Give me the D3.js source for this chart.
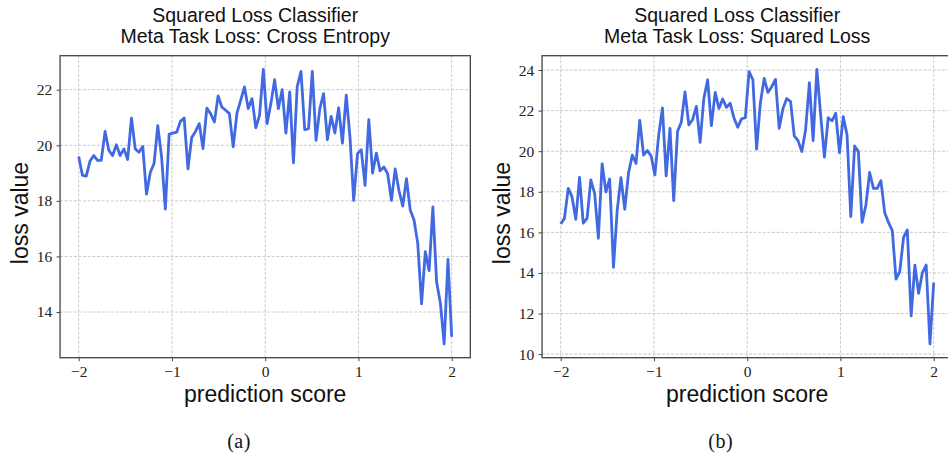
<!DOCTYPE html>
<html>
<head>
<meta charset="utf-8">
<script src="https://cdn.jsdelivr.net/npm/d3@7"></script>
<style>
  body { margin: 0; background: #fff; }
  svg { display: block; }
</style>
</head>
<body>
<svg id="chart" width="948" height="455"></svg>
<script>
// prediction scores (100 evenly spaced points from -2 to 2)
const scores = [
  -2.000, -1.960, -1.919, -1.879, -1.838, -1.798, -1.758, -1.717, -1.677, -1.636,
  -1.596, -1.556, -1.515, -1.475, -1.434, -1.394, -1.354, -1.313, -1.273, -1.232,
  -1.192, -1.152, -1.111, -1.071, -1.030, -0.990, -0.949, -0.909, -0.869, -0.828,
  -0.788, -0.747, -0.707, -0.667, -0.626, -0.586, -0.545, -0.505, -0.465, -0.424,
  -0.384, -0.343, -0.303, -0.263, -0.222, -0.182, -0.141, -0.101, -0.061, -0.020,
   0.020,  0.061,  0.101,  0.141,  0.182,  0.222,  0.263,  0.303,  0.343,  0.384,
   0.424,  0.465,  0.505,  0.545,  0.586,  0.626,  0.667,  0.707,  0.747,  0.788,
   0.828,  0.869,  0.909,  0.949,  0.990,  1.030,  1.071,  1.111,  1.152,  1.192,
   1.232,  1.273,  1.313,  1.354,  1.394,  1.434,  1.475,  1.515,  1.556,  1.596,
   1.636,  1.677,  1.717,  1.758,  1.798,  1.838,  1.879,  1.919,  1.960,  2.000
];

// (a) meta task loss: cross entropy
const lossCrossEntropy = [
  19.60, 18.92, 18.89, 19.43, 19.63, 19.46, 19.46, 20.50, 19.82, 19.63,
  20.02, 19.63, 19.87, 19.49, 20.98, 19.87, 19.75, 19.96, 18.24, 19.03,
  19.34, 20.71, 19.58, 17.70, 20.40, 20.44, 20.47, 20.86, 20.98, 19.15,
  20.28, 20.50, 20.78, 19.88, 21.34, 21.14, 20.84, 21.78, 21.38, 21.26,
  21.14, 19.94, 21.16, 21.62, 22.10, 21.32, 21.68, 20.63, 21.08, 22.73,
  20.78, 21.50, 22.36, 21.32, 22.00, 20.44, 21.92, 19.37, 22.10, 22.66,
  20.56, 20.60, 22.66, 20.18, 21.32, 21.86, 20.20, 21.04, 20.44, 21.35,
  20.08, 21.80, 20.30, 18.02, 19.70, 19.84, 18.56, 20.92, 19.00, 19.72,
  19.08, 19.22, 18.98, 18.02, 19.15, 18.38, 17.81, 18.80, 17.66, 17.31,
  16.47, 14.29, 16.17, 15.49, 17.78, 15.09, 14.31, 12.85, 15.89, 13.11
];

// (b) meta task loss: squared loss
const lossSquared = [
  16.41, 16.69, 18.17, 17.76, 16.64, 18.71, 16.45, 16.69, 18.59, 17.92,
  15.71, 19.38, 18.00, 18.63, 14.28, 17.10, 18.70, 17.14, 18.91, 19.81,
  19.40, 21.52, 19.81, 20.03, 19.76, 18.83, 20.80, 22.13, 18.78, 21.13,
  17.56, 20.98, 21.42, 22.92, 21.30, 21.55, 22.21, 20.44, 22.60, 23.52,
  21.26, 22.90, 22.11, 22.57, 22.16, 22.36, 21.62, 21.18, 21.59, 21.65,
  23.92, 23.52, 20.10, 22.37, 23.59, 22.90, 23.18, 23.54, 21.13, 22.11,
  22.60, 22.44, 20.75, 20.52, 19.98, 21.04, 23.38, 20.52, 24.03, 21.78,
  19.71, 21.65, 21.50, 21.87, 19.93, 21.70, 20.80, 16.78, 20.26, 19.98,
  16.49, 17.35, 18.95, 18.17, 18.17, 18.55, 16.97, 16.49, 16.09, 13.70,
  14.07, 15.76, 16.12, 11.88, 14.39, 13.00, 14.02, 14.39, 10.50, 13.52
];

const xTicks = [-2, -1, 0, 1, 2];
const yTicksA = [14, 16, 18, 20, 22];
const yTicksB = [10, 12, 14, 16, 18, 20, 22, 24];
const titleA = ["Squared Loss Classifier", "Meta Task Loss: Cross Entropy"];
const titleB = ["Squared Loss Classifier", "Meta Task Loss: Squared Loss"];

const sans = "'Liberation Sans', Arial, Helvetica, sans-serif";
const serif = "'Liberation Serif', 'Times New Roman', serif";
const frameColor = "#444";

const svg = d3.select("#chart");

// matplotlib-like 5% margin around the data
function padded(ext) {
  const p = (ext[1] - ext[0]) * 0.05;
  return [ext[0] - p, ext[1] + p];
}

function drawPanel(left, values, yTicks, title, caption, captionX) {
  const right = left + 410.3, top = 55.7, bottom = 357.7;
  const cx = (left + right) / 2;

  const x = d3.scaleLinear().domain(padded(d3.extent(scores))).range([left, right]);
  const y = d3.scaleLinear().domain(padded(d3.extent(values))).range([bottom, top]);

  const g = svg.append("g");

  // grid
  const grid = g.append("g")
    .attr("stroke", "#bdbdbd")
    .attr("stroke-width", 0.8)
    .attr("stroke-dasharray", "3,1.6");
  grid.selectAll("line.gx").data(xTicks).join("line").attr("class", "gx")
    .attr("x1", d => x(d)).attr("x2", d => x(d))
    .attr("y1", top).attr("y2", bottom);
  grid.selectAll("line.gy").data(yTicks).join("line").attr("class", "gy")
    .attr("x1", left).attr("x2", right)
    .attr("y1", d => y(d)).attr("y2", d => y(d));

  // the curve
  const line = d3.line()
    .x((d, i) => x(scores[i]))
    .y(d => y(d));
  g.append("path")
    .datum(values)
    .attr("fill", "none")
    .attr("stroke", "#4169e1")
    .attr("stroke-width", 2.8)
    .attr("stroke-linejoin", "round")
    .attr("d", line);

  // axes
  const fmt = d3.format("d");
  const xAxis = g.append("g")
    .attr("transform", `translate(0,${bottom})`)
    .call(d3.axisBottom(x).tickValues(xTicks).tickSize(3.5).tickPadding(4.5).tickFormat(fmt));
  const yAxis = g.append("g")
    .attr("transform", `translate(${left},0)`)
    .call(d3.axisLeft(y).tickValues(yTicks).tickSize(3.5).tickPadding(4.2).tickFormat(fmt));
  [xAxis, yAxis].forEach(a => {
    a.select(".domain").remove();
    a.selectAll(".tick line").attr("stroke", frameColor).attr("stroke-width", 1);
    a.selectAll(".tick text")
      .attr("fill", "#222")
      .style("font-family", serif)
      .style("font-size", "15.5px");
  });

  // frame
  g.append("rect")
    .attr("x", left).attr("y", top)
    .attr("width", right - left).attr("height", bottom - top)
    .attr("fill", "none")
    .attr("stroke", frameColor)
    .attr("stroke-width", 1.3);

  // title
  const t = g.append("text")
    .attr("text-anchor", "middle")
    .style("font-family", sans)
    .style("font-size", "19.5px")
    .attr("fill", "#111");
  t.selectAll("tspan").data(title).join("tspan")
    .attr("x", cx - 10)
    .attr("y", (d, i) => 22.3 + i * 21)
    .text(d => d);

  // axis labels
  g.append("text")
    .attr("x", cx).attr("y", 402)
    .attr("text-anchor", "middle")
    .style("font-family", sans)
    .style("font-size", "23px")
    .attr("fill", "#111")
    .text("prediction score");
  g.append("text")
    .attr("transform", `translate(${left - 32.5},213) rotate(-90)`)
    .attr("text-anchor", "middle")
    .style("font-family", sans)
    .style("font-size", "23px")
    .attr("fill", "#111")
    .text("loss value");

  // sub-caption
  g.append("text")
    .attr("x", captionX).attr("y", 448)
    .attr("text-anchor", "middle")
    .style("font-family", serif)
    .style("font-size", "20px")
    .style("letter-spacing", "0.5px")
    .attr("fill", "#111")
    .text(caption);
}

drawPanel(60.05, lossCrossEntropy, yTicksA, titleA, "(a)", 239);
drawPanel(542.05, lossSquared, yTicksB, titleB, "(b)", 720.7);
</script>
</body>
</html>
